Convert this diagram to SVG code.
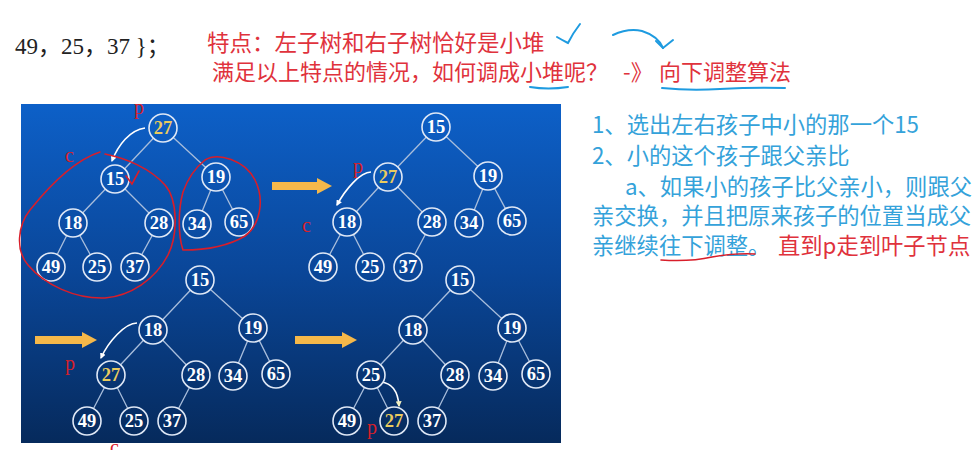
<svg xmlns="http://www.w3.org/2000/svg" width="980" height="450" viewBox="0 0 980 450">
<defs>
<linearGradient id="bg" gradientUnits="userSpaceOnUse" x1="0" y1="104" x2="0" y2="443">
<stop offset="0" stop-color="#0d60c8"/>
<stop offset="0.5" stop-color="#0a4698"/>
<stop offset="1" stop-color="#062a5c"/>
</linearGradient>
<marker id="mw" viewBox="0 0 10 10" refX="8" refY="5" markerWidth="6" markerHeight="6" orient="auto" markerUnits="userSpaceOnUse">
<path d="M0,0 L10,5 L0,10 z" fill="#ffffff"/>
</marker>
<marker id="my" viewBox="0 0 10 10" refX="8" refY="5" markerWidth="6" markerHeight="6" orient="auto" markerUnits="userSpaceOnUse">
<path d="M0,0 L10,5 L0,10 z" fill="#f2f0c0"/>
</marker>
</defs>
<style>
.node circle{fill:url(#bg);stroke:#dfe8f6;stroke-width:1.6}
.node text{font-family:"Liberation Serif",serif;font-weight:bold;font-size:18.5px;fill:#ffffff;text-anchor:middle}
.node text.hl{fill:#eacb5e}
.edge{stroke:#a9bedc;stroke-width:1.3}
.red{font-family:"Noto Sans CJK SC",sans-serif;fill:#e0323c}
.blue{font-family:"Noto Sans CJK SC",sans-serif;fill:#34a2da}
.lbl{font-family:"Liberation Serif",serif;font-size:20px;fill:#d8202a}
.hand-r{fill:none;stroke:#d81e2a;stroke-width:1.6;stroke-linecap:round}
.hand-b{fill:none;stroke:#1e9be0;stroke-width:2;stroke-linecap:round}
.flow{fill:#f5b84a}
.curve{fill:none;stroke:#ffffff;stroke-width:1.6}
</style>
<rect width="980" height="450" fill="#ffffff"/>

<!-- top text -->
<text x="15" y="54" font-family="Liberation Serif, Noto Sans CJK SC, serif" font-size="23" fill="#222">49，25，37 }；</text>
<text class="red" x="207" y="51" font-size="22.5">特点：左子树和右子树恰好是小堆</text>
<text class="red" x="212" y="80" font-size="22">满足以上特点的情况，如何调成小堆呢？<tspan x="623">-》</tspan><tspan x="659">向下调整算法</tspan></text>
<path class="hand-b" d="M557,37 Q562,40 568,43 Q573,33 580,24"/>
<path class="hand-b" d="M613,35 Q628,28 642,31 Q658,36 663,48"/>
<path class="hand-b" d="M656,41 L663,48 L673,40"/>
<path class="hand-b" d="M530,87 Q548,90 568,87"/>
<path class="hand-b" d="M662,88 Q690,91 720,89 Q755,87 785,88"/>

<!-- panel -->
<rect x="21" y="104" width="540" height="339" fill="url(#bg)"/>

<!-- right text -->
<text class="blue" x="592" y="133" font-size="22.3">1、选出左右孩子中小的那一个15</text>
<text class="blue" x="592" y="164" font-size="22.3">2、小的这个孩子跟父亲比</text>
<text class="blue" x="625" y="195" font-size="22.3">a、如果小的孩子比父亲小，则跟父</text>
<text class="blue" x="592" y="224" font-size="22.3">亲交换，并且把原来孩子的位置当成父</text>
<text class="blue" x="592" y="254" font-size="22.3">亲继续往下调整。</text>
<text class="red" x="778" y="254" font-size="22.3">直到p走到叶子节点</text>
<path class="hand-r" d="M661,260 Q690,262 712,257 Q735,253 755,254"/>

<g id="connectors">
<!-- tree 1 -->
<line class="edge" x1="163" y1="128" x2="115" y2="179"/>
<line class="edge" x1="163" y1="128" x2="216" y2="177"/>
<line class="edge" x1="115" y1="179" x2="73" y2="223"/>
<line class="edge" x1="115" y1="179" x2="159" y2="223"/>
<line class="edge" x1="73" y1="223" x2="51" y2="267"/>
<line class="edge" x1="73" y1="223" x2="97" y2="267"/>
<line class="edge" x1="159" y1="223" x2="135" y2="267"/>
<line class="edge" x1="216" y1="177" x2="197" y2="224"/>
<line class="edge" x1="216" y1="177" x2="239" y2="222"/>
<!-- tree 2 -->
<line class="edge" x1="436" y1="127" x2="388" y2="177"/>
<line class="edge" x1="436" y1="127" x2="488" y2="176"/>
<line class="edge" x1="388" y1="177" x2="347" y2="222"/>
<line class="edge" x1="388" y1="177" x2="432" y2="222"/>
<line class="edge" x1="347" y1="222" x2="323" y2="267"/>
<line class="edge" x1="347" y1="222" x2="370" y2="267"/>
<line class="edge" x1="432" y1="222" x2="408" y2="267"/>
<line class="edge" x1="488" y1="176" x2="469" y2="223"/>
<line class="edge" x1="488" y1="176" x2="512" y2="221"/>
<!-- tree 3 -->
<line class="edge" x1="200" y1="280" x2="153" y2="330"/>
<line class="edge" x1="200" y1="280" x2="253" y2="328"/>
<line class="edge" x1="153" y1="330" x2="111" y2="375"/>
<line class="edge" x1="153" y1="330" x2="196" y2="375"/>
<line class="edge" x1="111" y1="375" x2="87" y2="421"/>
<line class="edge" x1="111" y1="375" x2="134" y2="421"/>
<line class="edge" x1="196" y1="375" x2="172" y2="421"/>
<line class="edge" x1="253" y1="328" x2="233" y2="376"/>
<line class="edge" x1="253" y1="328" x2="276" y2="374"/>
<!-- tree 4 -->
<line class="edge" x1="460" y1="280" x2="413" y2="330"/>
<line class="edge" x1="460" y1="280" x2="512" y2="328"/>
<line class="edge" x1="413" y1="330" x2="371" y2="375"/>
<line class="edge" x1="413" y1="330" x2="455" y2="375"/>
<line class="edge" x1="371" y1="375" x2="347" y2="421"/>
<line class="edge" x1="371" y1="375" x2="394" y2="421"/>
<line class="edge" x1="455" y1="375" x2="432" y2="421"/>
<line class="edge" x1="512" y1="328" x2="493" y2="376"/>
<line class="edge" x1="512" y1="328" x2="536" y2="374"/>
<!-- step arrows -->
<polygon class="flow" points="272,182 317,182 317,178 332,186 317,194 317,190 272,190"/>
<polygon class="flow" points="35,336 82,336 82,332 97,340 82,348 82,344 35,344"/>
<polygon class="flow" points="295,336 342,336 342,332 357,340 342,348 342,344 295,344"/>
<!-- swap curves -->
<path class="curve" d="M145,128 C130,130 118,145 112,161" marker-end="url(#mw)"/>
<path class="curve" d="M371,172 C360,172 345,190 337,205" marker-end="url(#mw)"/>
<path class="curve" d="M137,323 C125,323 108,342 101,358" marker-end="url(#mw)"/>
<path class="curve" d="M381,382 C392,383 398,392 399,406" stroke="#f2f0c0" marker-end="url(#my)"/>
</g>

<!-- tree 1 nodes -->
<g id="t1-27" class="node"><circle cx="163" cy="128" r="14"/><text class="hl" x="163" y="134">27</text></g>
<g id="t1-15" class="node"><circle cx="115" cy="179" r="14"/><text x="115" y="185">15</text></g>
<g id="t1-19" class="node"><circle cx="216" cy="177" r="14"/><text x="216" y="183">19</text></g>
<g id="t1-18" class="node"><circle cx="73" cy="223" r="14"/><text x="73" y="229">18</text></g>
<g id="t1-28" class="node"><circle cx="159" cy="223" r="14"/><text x="159" y="229">28</text></g>
<g id="t1-34" class="node"><circle cx="197" cy="224" r="14"/><text x="197" y="230">34</text></g>
<g id="t1-65" class="node"><circle cx="239" cy="222" r="14"/><text x="239" y="228">65</text></g>
<g id="t1-49" class="node"><circle cx="51" cy="267" r="14"/><text x="51" y="273">49</text></g>
<g id="t1-25" class="node"><circle cx="97" cy="267" r="14"/><text x="97" y="273">25</text></g>
<g id="t1-37" class="node"><circle cx="135" cy="267" r="14"/><text x="135" y="273">37</text></g>

<!-- tree 2 nodes -->
<g id="t2-15" class="node"><circle cx="436" cy="127" r="14"/><text x="436" y="133">15</text></g>
<g id="t2-27" class="node"><circle cx="388" cy="177" r="14"/><text class="hl" x="388" y="183">27</text></g>
<g id="t2-19" class="node"><circle cx="488" cy="176" r="14"/><text x="488" y="182">19</text></g>
<g id="t2-18" class="node"><circle cx="347" cy="222" r="14"/><text x="347" y="228">18</text></g>
<g id="t2-28" class="node"><circle cx="432" cy="222" r="14"/><text x="432" y="228">28</text></g>
<g id="t2-34" class="node"><circle cx="469" cy="223" r="14"/><text x="469" y="229">34</text></g>
<g id="t2-65" class="node"><circle cx="512" cy="221" r="14"/><text x="512" y="227">65</text></g>
<g id="t2-49" class="node"><circle cx="323" cy="267" r="14"/><text x="323" y="273">49</text></g>
<g id="t2-25" class="node"><circle cx="370" cy="267" r="14"/><text x="370" y="273">25</text></g>
<g id="t2-37" class="node"><circle cx="408" cy="267" r="14"/><text x="408" y="273">37</text></g>

<!-- tree 3 nodes -->
<g id="t3-15" class="node"><circle cx="200" cy="280" r="14"/><text x="200" y="286">15</text></g>
<g id="t3-18" class="node"><circle cx="153" cy="330" r="14"/><text x="153" y="336">18</text></g>
<g id="t3-19" class="node"><circle cx="253" cy="328" r="14"/><text x="253" y="334">19</text></g>
<g id="t3-27" class="node"><circle cx="111" cy="375" r="14"/><text class="hl" x="111" y="381">27</text></g>
<g id="t3-28" class="node"><circle cx="196" cy="375" r="14"/><text x="196" y="381">28</text></g>
<g id="t3-34" class="node"><circle cx="233" cy="376" r="14"/><text x="233" y="382">34</text></g>
<g id="t3-65" class="node"><circle cx="276" cy="374" r="14"/><text x="276" y="380">65</text></g>
<g id="t3-49" class="node"><circle cx="87" cy="421" r="14"/><text x="87" y="427">49</text></g>
<g id="t3-25" class="node"><circle cx="134" cy="421" r="14"/><text x="134" y="427">25</text></g>
<g id="t3-37" class="node"><circle cx="172" cy="421" r="14"/><text x="172" y="427">37</text></g>

<!-- tree 4 nodes -->
<g id="t4-15" class="node"><circle cx="460" cy="280" r="14"/><text x="460" y="286">15</text></g>
<g id="t4-18" class="node"><circle cx="413" cy="330" r="14"/><text x="413" y="336">18</text></g>
<g id="t4-19" class="node"><circle cx="512" cy="328" r="14"/><text x="512" y="334">19</text></g>
<g id="t4-25" class="node"><circle cx="371" cy="375" r="14"/><text x="371" y="381">25</text></g>
<g id="t4-28" class="node"><circle cx="455" cy="375" r="14"/><text x="455" y="381">28</text></g>
<g id="t4-34" class="node"><circle cx="493" cy="376" r="14"/><text x="493" y="382">34</text></g>
<g id="t4-65" class="node"><circle cx="536" cy="374" r="14"/><text x="536" y="380">65</text></g>
<g id="t4-49" class="node"><circle cx="347" cy="421" r="14"/><text x="347" y="427">49</text></g>
<g id="t4-27" class="node"><circle cx="394" cy="421" r="14"/><text class="hl" x="394" y="427">27</text></g>
<g id="t4-37" class="node"><circle cx="432" cy="421" r="14"/><text x="432" y="427">37</text></g>

<!-- hand annotations (red) -->
<path class="hand-r" d="M105,154 C125,158 150,168 165,185 C178,200 178,235 168,255 C155,280 130,296 105,298 C75,299 45,285 28,265 C15,250 18,225 30,210 C50,185 75,160 100,152"/>
<path class="hand-r" d="M205,160 C218,152 245,160 255,180 C265,200 260,225 245,236 C225,248 200,250 183,250 C178,235 178,210 183,192 C188,178 195,168 205,160"/>
<path class="hand-r" d="M126,176 L132,184 L139,171"/>
<text class="lbl" x="134" y="114">p</text>
<text class="lbl" x="65" y="162">c</text>
<text class="lbl" x="353" y="173">p</text>
<text class="lbl" x="302" y="232">c</text>
<text class="lbl" x="65" y="370">p</text>
<text class="lbl" x="367" y="434">p</text>
<text class="lbl" x="110" y="454">c</text>
</svg>
